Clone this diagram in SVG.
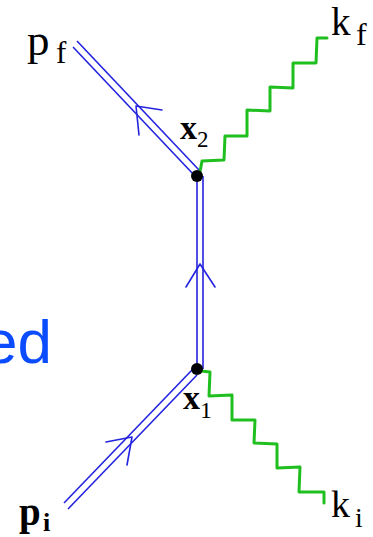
<svg xmlns="http://www.w3.org/2000/svg" width="373" height="537" viewBox="0 0 373 537">
<style>
.fer{fill:none;stroke:#2323e0;stroke-width:1.6}
.arr{fill:none;stroke:#2323e0;stroke-width:1.6;stroke-linecap:round;stroke-linejoin:round}
.pho{fill:none;stroke:#1fbf1f;stroke-width:3;stroke-linejoin:round;stroke-linecap:round}
.lab{font-family:"Liberation Serif","Times New Roman",serif;fill:#000}
.b{font-weight:bold}
.vtx{fill:#000}
</style>
<rect width="373" height="537" fill="#fff"/>
<text x="52" y="363" text-anchor="end" font-family="Liberation Sans, Arial, sans-serif" font-size="62" fill="#0b4cff">ed</text>
<g id="connectors">
  <g id="fermion-out">
    <line class="fer" x1="77" y1="41" x2="199" y2="170"/>
    <line class="fer" x1="73" y1="47" x2="194" y2="175"/>
    <polyline class="arr" points="162,110 136,106 139,135"/>
  </g>
  <g id="propagator">
    <line class="fer" x1="197" y1="176" x2="197" y2="369"/>
    <line class="fer" x1="203" y1="176" x2="203" y2="369"/>
    <polyline class="arr" points="186,287 200,264 215,287"/>
  </g>
  <g id="fermion-in">
    <line class="fer" x1="64" y1="503" x2="192" y2="370"/>
    <line class="fer" x1="68" y1="509" x2="197" y2="375"/>
    <polyline class="arr" points="106,442 132,437 127,465"/>
  </g>
  <path id="photon-out" class="pho" d="M200,172 L202,161 L224,160 L225,136 L247,136 L247,110 L270,111 L270,87 L293,88 L293,63 L316,63 L317,38 L327,38"/>
  <path id="photon-in" class="pho" d="M201,371 L210,372 L209,396 L232,395 L232,420 L255,420 L254,443 L277,444 L277,468 L300,467 L299,492 L324,492 L324,503"/>
</g>
<g id="vertex-x2">
  <circle class="vtx" cx="197" cy="176" r="6"/>
  <text class="lab b" x="180" y="139" font-size="34">x<tspan font-size="23" font-weight="normal" dy="8">2</tspan></text>
</g>
<g id="vertex-x1">
  <circle class="vtx" cx="197" cy="369" r="6"/>
  <text class="lab b" x="183" y="409" font-size="34">x<tspan font-size="24" font-weight="normal" dy="9">1</tspan></text>
</g>
<g id="p-f">
  <text class="lab" x="27" y="55" font-size="45">p<tspan x="56" y="63" font-size="31">f</tspan></text>
</g>
<g id="k-f">
  <text class="lab" x="331" y="35" font-size="39">k<tspan x="356" y="45" font-size="32">f</tspan></text>
</g>
<g id="p-i">
  <text class="lab b" x="19" y="525" font-size="39">p<tspan x="43" y="531" font-size="26">i</tspan></text>
</g>
<g id="k-i">
  <text class="lab" x="331" y="517" font-size="38">k<tspan x="355" y="527" font-size="28">i</tspan></text>
</g>
</svg>
